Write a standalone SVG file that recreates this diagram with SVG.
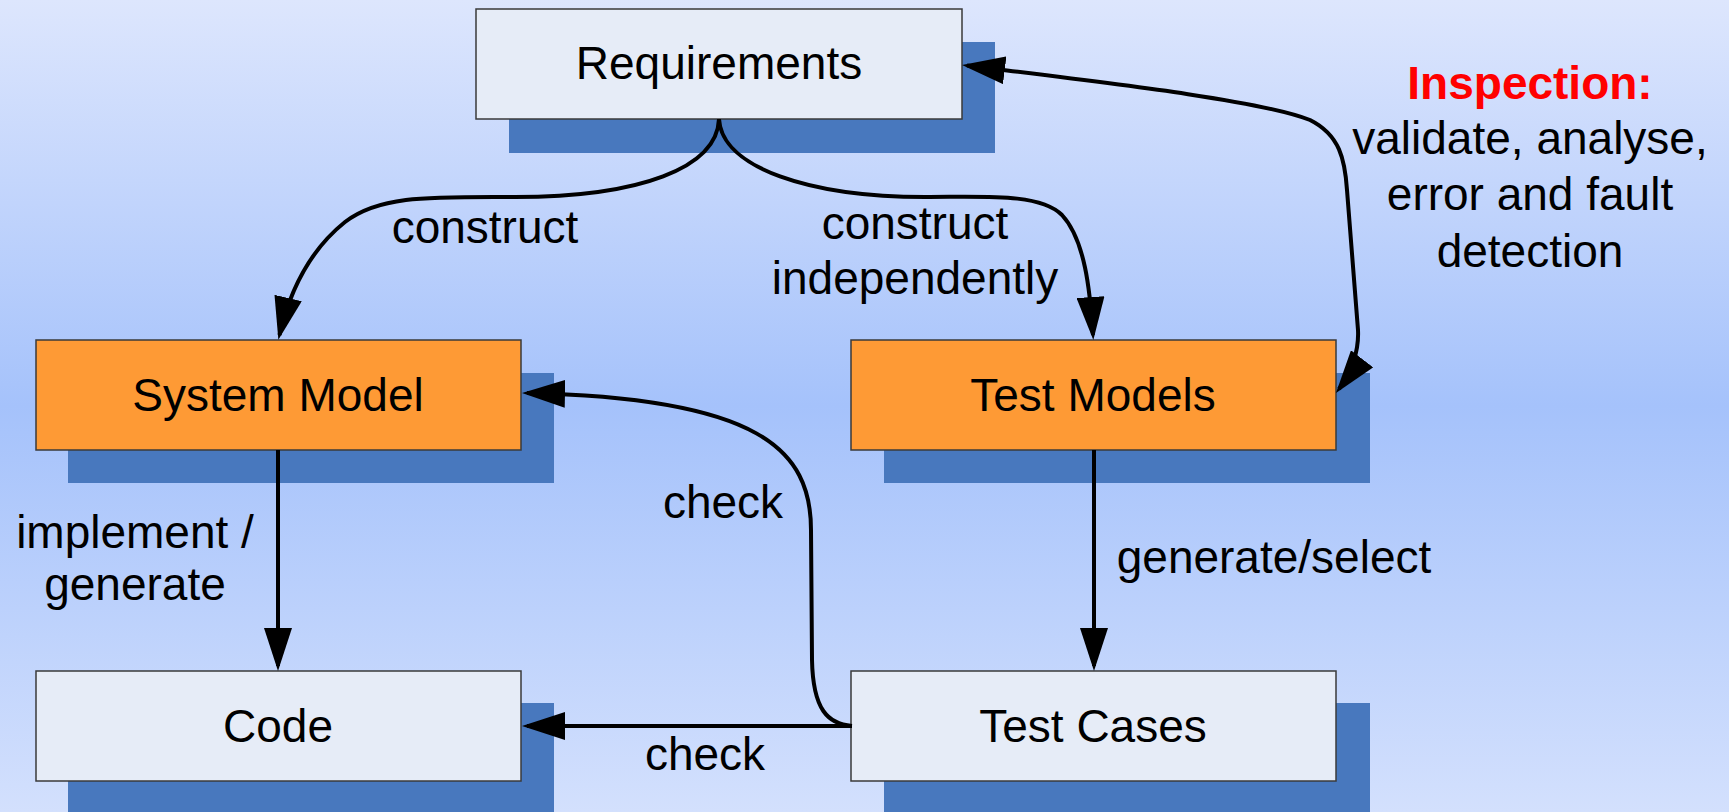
<svg xmlns="http://www.w3.org/2000/svg" width="1729" height="812" viewBox="0 0 1729 812">
  <defs>
    <linearGradient id="bg" x1="0" y1="0" x2="0" y2="1">
      <stop offset="0" stop-color="#dde6fd"/>
      <stop offset="0.5" stop-color="#a5c2fb"/>
      <stop offset="1" stop-color="#d3e0fd"/>
    </linearGradient>
    <marker id="arrow" markerUnits="userSpaceOnUse" viewBox="0 0 43 28" markerWidth="43" markerHeight="28" refX="38" refY="14" orient="auto-start-reverse">
      <path d="M0,0 L43,14 L0,28 z" fill="#000"/>
    </marker>
    <style>
      .shadow { fill: #4878be; }
      .box { stroke: #3a3a3a; stroke-width: 1.5; }
      .light { fill: #e6ecf7; }
      .orange { fill: #fe9a35; }
      .label { font-family: "Liberation Sans", Arial, sans-serif; font-size: 46px; fill: #000; text-anchor: middle; }
      .edge { fill: none; stroke: #000; stroke-width: 4; }
      .arrowed { marker-end: url(#arrow); }
    </style>
  </defs>

  <rect x="0" y="0" width="1729" height="812" fill="url(#bg)"/>

  <!-- nodes -->
  <g id="requirements">
    <rect class="shadow" x="509" y="42" width="486" height="111"/>
    <rect class="box light" x="476" y="9" width="486" height="110"/>
    <text class="label" x="719" y="79">Requirements</text>
  </g>
  <g id="system-model">
    <rect class="shadow" x="68" y="373" width="486" height="110"/>
    <rect class="box orange" x="36" y="340" width="485" height="110"/>
    <text class="label" x="278" y="411">System Model</text>
  </g>
  <g id="test-models">
    <rect class="shadow" x="884" y="373" width="486" height="110"/>
    <rect class="box orange" x="851" y="340" width="485" height="110"/>
    <text class="label" x="1093" y="411">Test Models</text>
  </g>
  <g id="code">
    <rect class="shadow" x="68" y="703" width="486" height="112"/>
    <rect class="box light" x="36" y="671" width="485" height="110"/>
    <text class="label" x="278" y="742">Code</text>
  </g>
  <g id="test-cases">
    <rect class="shadow" x="884" y="703" width="486" height="112"/>
    <rect class="box light" x="851" y="671" width="485" height="110"/>
    <text class="label" x="1093" y="742">Test Cases</text>
  </g>

  <!-- connectors -->
  <g id="connectors">
    <path class="edge arrowed" d="M719,119 C717,168 640,197 515,197 C430,197 380,195 345,222 C310,250 290,290 279.5,335"/>
    <path class="edge arrowed" d="M719,119 C722,168 810,197 925,197 C985,197 1040,193 1062,215 C1085,240 1090,290 1093,335"/>
    <path class="edge" marker-start="url(#arrow)" marker-end="url(#arrow)" d="M967,65.6 C1100,82 1260,100 1310,120 C1340,135 1345,160 1347,190 L1358,330 C1359,350 1352,372 1339,389"/>
    <path class="edge arrowed" d="M278,450 L278,666"/>
    <path class="edge arrowed" d="M1094,450 L1094,666"/>
    <path class="edge arrowed" d="M852,726 L527,726"/>
    <path class="edge arrowed" d="M852,726 C828,724 813,710 812,660 L811,530 C811,450 760,398 527,393"/>

    <g id="edge-labels">
      <text class="label" x="485" y="243">construct</text>
      <text class="label" x="915" y="239">construct</text>
      <text class="label" x="915" y="294">independently</text>
      <text class="label" x="135" y="548">implement /</text>
      <text class="label" x="135" y="600">generate</text>
      <text class="label" x="723" y="518">check</text>
      <text class="label" x="1274" y="573">generate/select</text>
      <text class="label" x="705" y="770">check</text>
    </g>
  </g>

  <g id="inspection-note">
    <text class="label" x="1530" y="99" font-weight="bold" fill="#ff0000" style="fill:#ff0000">Inspection:</text>
    <text class="label" x="1530" y="154">validate, analyse,</text>
    <text class="label" x="1530" y="210">error and fault</text>
    <text class="label" x="1530" y="267">detection</text>
  </g>
</svg>
